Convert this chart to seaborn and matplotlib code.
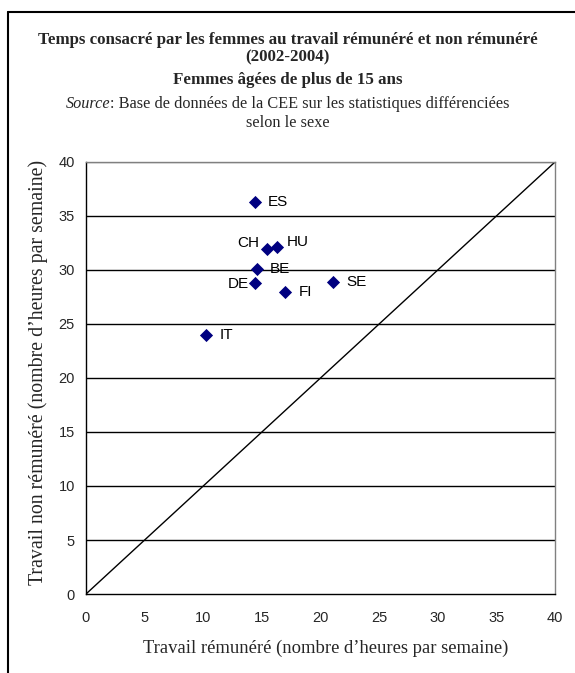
import matplotlib
matplotlib.use("Agg")
import matplotlib.pyplot as plt
import seaborn as sns
import pandas as pd
from matplotlib.lines import Line2D

countries = ["ES", "CH", "HU", "BE", "DE", "FI", "SE", "IT"]
paid = [14.4, 15.4, 16.25, 14.55, 14.45, 17.0, 21.1, 10.25]
unpaid = [36.3, 31.95, 32.1, 30.1, 28.75, 27.95, 28.9, 24.0]
ticks = [0, 5, 10, 15, 20, 25, 30, 35, 40]

title1 = "Temps consacré par les femmes au travail rémunéré et non rémunéré"
title2 = "(2002-2004)"
title3 = "Femmes âgées de plus de 15 ans"
xlabel = "Travail rémunéré (nombre d’heures par semaine)"
ylabel = "Travail non rémunéré (nombre d’heures par semaine)"

df = pd.DataFrame({"country": countries, "paid": paid, "unpaid": unpaid})

sns.set_style("white")
plt.rcParams["font.family"] = ["Liberation Sans", "DejaVu Sans"]

fig = plt.figure(figsize=(5.75, 6.73), dpi=100)
ax = fig.add_axes([86/575, 1-594/673, (555-86)/575, (594-162)/673])

for t in ticks[1:]:
    ax.axhline(t, color="black" if t < 40 else "#808080", lw=1.0, zorder=1)
ax.plot([0, 40], [0, 40], color="black", lw=1.0, zorder=2)

sns.scatterplot(data=df, x="paid", y="unpaid", marker="D", color="#000080",
                s=45, edgecolor="#000080", linewidth=0, ax=ax, zorder=3)

# label offsets in points (dx, dy, ha)
offsets = {"ES": (9.5, 0, "left"), "CH": (-5.5, 4.3, "right"), "HU": (7.5, 4, "left"),
           "BE": (9.5, 0, "left"), "DE": (-5, -0.7, "right"), "FI": (9.5, 0, "left"),
           "SE": (9.5, 0, "left"), "IT": (9.5, 0, "left")}
for c, x, y in zip(countries, paid, unpaid):
    dx, dy, ha = offsets[c]
    ax.annotate(c, (x, y), xytext=(dx, dy), textcoords="offset points",
                ha=ha, va="center", fontsize=11, color="black")

ax.set_xlim(0, 40)
ax.set_ylim(0, 40)
ax.set_xticks(ticks)
ax.set_yticks(ticks)
ax.tick_params(axis="both", direction="out", length=4, width=1, color="black",
               labelsize=10.5, pad=4)
ax.tick_params(axis="x", pad=8)
for side in ["left", "bottom"]:
    ax.spines[side].set_color("black")
    ax.spines[side].set_linewidth(1.0)
for side in ["right", "top"]:
    ax.spines[side].set_color("#808080")
    ax.spines[side].set_linewidth(1.0)

ax.set_xlabel(xlabel, family="Liberation Serif", fontsize=13.4, va="center")
ax.set_ylabel(ylabel, family="Liberation Serif", fontsize=14.3, va="center")
ax.xaxis.set_label_coords((325.5-86)/469, (594-648)/432)
ax.yaxis.set_label_coords((38-86)/469, (594-372.5)/432)

fig.text(0.5, 1-40/673, title1, ha="center", va="center", family="Liberation Serif",
         fontweight="bold", fontsize=12.2)
fig.text(0.5, 1-57/673, title2, ha="center", va="center", family="Liberation Serif",
         fontweight="bold", fontsize=12.2)
fig.text(0.5, 1-80/673, title3, ha="center", va="center", family="Liberation Serif",
         fontweight="bold", fontsize=12.2)
# source line with italic "Source"
s1a = "Source"
s1b = ": Base de données de la CEE sur les statistiques différenciées"
t_a = fig.text(0, 0, s1a, family="Liberation Serif", style="italic", fontsize=11.7)
t_b = fig.text(0, 0, s1b, family="Liberation Serif", fontsize=11.7)
fig.canvas.draw()
r = fig.canvas.get_renderer()
wa = t_a.get_window_extent(r).width
wb = t_b.get_window_extent(r).width
W = fig.bbox.width
x0 = (W - wa - wb) / 2
t_a.set_position((x0 / W, 1-104/673)); t_a.set_va("center")
t_b.set_position(((x0 + wa) / W, 1-104/673)); t_b.set_va("center")
fig.text(0.5, 1-123/673, "selon le sexe", ha="center", va="center",
         family="Liberation Serif", fontsize=11.7)

# frame
fig.add_artist(Line2D([8/575, 8/575], [0, 1-12/673], transform=fig.transFigure,
                      color="black", lw=1.5))
fig.add_artist(Line2D([8/575, 1], [1-12/673, 1-12/673], transform=fig.transFigure,
                      color="black", lw=1.5))

fig.savefig("out.png", dpi=100)
